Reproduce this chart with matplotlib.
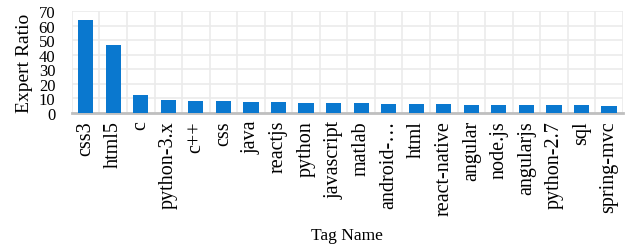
import numpy as np
import matplotlib.pyplot as plt

tags = ['css3', 'html5', 'c', 'python-3.x', 'c++', 'css', 'java', 'reactjs',
        'python', 'javascript', 'matlab', 'android-…', 'html', 'react-native',
        'angular', 'node.js', 'angularjs', 'python-2.7', 'sql', 'spring-mvc']
ratio = [64.0, 46.5, 12.5, 9.0, 8.2, 8.1, 7.8, 7.4, 7.1, 6.7,
         6.5, 6.3, 6.2, 6.1, 5.8, 5.7, 5.5, 5.4, 5.2, 5.1]

plt.rcParams['font.family'] = ['Liberation Serif', 'DejaVu Serif']

fig = plt.figure(figsize=(6.31, 2.51), dpi=100)
ax = fig.add_axes([0.114, 0.546, 0.873, 0.406])

x = np.arange(len(tags))
ax.bar(x, ratio, width=0.55, color='#0a78cf', zorder=3)

ax.set_xlim(-0.5, len(tags) - 0.5)
ax.set_ylim(0, 70)
ax.set_yticks(range(0, 71, 10))
ax.set_xticks(x)
ax.set_xticklabels(tags, rotation=90, fontsize=14.5)
ax.tick_params(axis='y', labelsize=12, length=0, pad=12)
ax.tick_params(axis='x', length=0, pad=5)

# grid: horizontal every 10, vertical between categories
ax.set_xticks(np.arange(-0.5, len(tags), 1), minor=True)
ax.grid(True, axis='y', which='major', color='#ebebeb', lw=1.2, zorder=0)
ax.grid(True, axis='x', which='minor', color='#ebebeb', lw=1.2, zorder=0)
ax.tick_params(axis='x', which='minor', length=0)

for s in ['top', 'right', 'left']:
    ax.spines[s].set_visible(False)
ax.spines['bottom'].set_color('#bfbfbf')
ax.spines['bottom'].set_linewidth(2)

ax.set_ylabel('Expert Ratio', fontsize=14, labelpad=4)
ax.set_xlabel('Tag Name', fontsize=12.5, labelpad=9)

fig.savefig('out.png', dpi=100)
